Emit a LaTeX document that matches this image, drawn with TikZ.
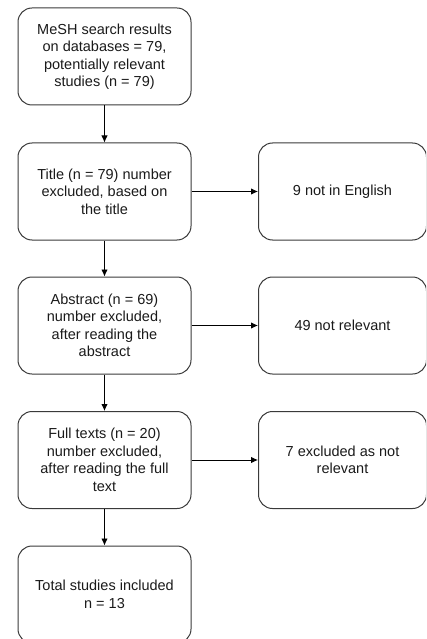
\documentclass[tikz,border=0pt]{standalone}
\usepackage{fontspec}
\setmainfont{Liberation Sans}
\usetikzlibrary{arrows.meta}
\definecolor{boxline}{HTML}{3A3A3A}
\definecolor{txt}{HTML}{1A1A1A}
\begin{document}
\begin{tikzpicture}[x=1pt,y=-1pt,
  flowbox/.style={draw=boxline,line width=1pt,rounded corners=14pt,
    minimum width=173pt,minimum height=97pt,inner sep=0pt,
    align=center,text=txt,font=\fontsize{14.5}{17.5}\selectfont},
  sidebox/.style={flowbox,minimum width=168pt},
  flowarrow/.style={draw=black,line width=0.9pt,-{Latex[length=7pt,width=6.5pt]}}]
\useasboundingbox (0,0) rectangle (426,639);
\begin{scope}
\clip (0,0) rectangle (426,639);
\node[flowbox] (mesh) at (104.5,56.5) {MeSH search results\\on databases = 79,\\potentially relevant\\studies (n = 79)};
\node[flowbox] (title) at (104.5,191.5) {Title (n = 79) number\\excluded, based on\\the title};
\node[flowbox] (abstract) at (104.5,325.5) {Abstract (n = 69)\\number excluded,\\after reading the\\abstract};
\node[flowbox] (full) at (104.5,460) {Full texts (n = 20)\\number excluded,\\after reading the full\\text};
\node[flowbox] (total) at (104.5,594.5) {Total studies included\\n = 13};
\node[sidebox] (eng) at (342.5,191.5) {9 not in English};
\node[sidebox] (notrel) at (342.5,325.5) {49 not relevant};
\node[sidebox] (excl) at (342.5,460) {7 excluded as not\\relevant};
\draw[flowarrow] (mesh) -- (title);
\draw[flowarrow] (title) -- (abstract);
\draw[flowarrow] (abstract) -- (full);
\draw[flowarrow] (full) -- (total);
\draw[flowarrow] (title) -- (eng);
\draw[flowarrow] (abstract) -- (notrel);
\draw[flowarrow] (full) -- (excl);
\end{scope}
\end{tikzpicture}
\end{document}
